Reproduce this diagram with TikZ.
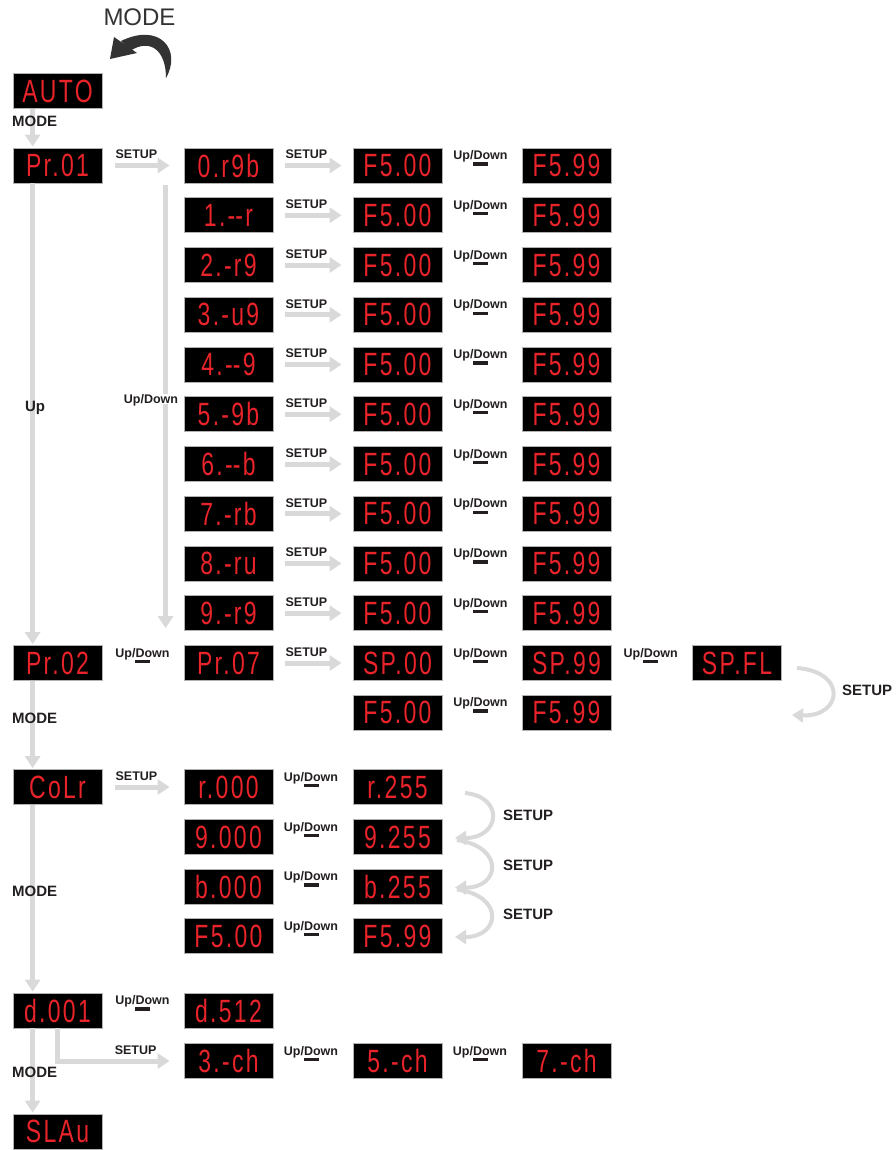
\documentclass[tikz,border=0pt]{standalone}
\usepackage{fontspec}
\usepackage{graphicx}
\setmainfont{Liberation Sans}
\newfontfamily\segfont[LetterSpace=10]{Liberation Sans}
\usetikzlibrary{arrows.meta,calc}
\definecolor{segred}{HTML}{E8232A}
\definecolor{arrgray}{HTML}{D9D9D9}
\definecolor{lblack}{HTML}{231F20}
\definecolor{darkarr}{HTML}{333333}
\newcommand\segtxt[1]{\scalebox{1}[1.4]{\fontsize{23}{23}\segfont #1}}
\newcommand\dd{-\kern0pt-}
\begin{document}
\begin{tikzpicture}[x=1pt,y=-1pt,
 disp/.style={fill=black,draw=gray!60,line width=0.8pt,minimum width=89pt,minimum height=35pt,inner sep=0pt,text=segred},
 garrow/.style={draw=arrgray,line width=5pt,-{Triangle[width=15pt,length=12pt]}},
 carrow/.style={draw=arrgray,line width=4pt,-{Triangle[width=14pt,length=11pt]}},
 slbl/.style={font=\bfseries\fontsize{12.5}{14}\selectfont,text=lblack,inner sep=0pt,text depth=0pt},
 blbl/.style={font=\bfseries\fontsize{15}{17}\selectfont,text=lblack,inner sep=0pt,text depth=0pt},
 dashbar/.style={fill=lblack,minimum width=15pt,minimum height=3.2pt,inner sep=0pt}
]
\useasboundingbox (0,0) rectangle (895,1150);

% ---- top MODE arrow
\node[font=\fontsize{24}{26}\selectfont,text=darkarr,inner sep=0pt] (topmode) at (139.5,17) {MODE};
\fill[darkarr] (166,78) .. controls (182,50) and (160,22) .. (121,41)
   -- (130,51) .. controls (150,38) and (166,50) .. (166,78) -- cycle;
\fill[darkarr] (114,37) -- (137,53) -- (110,59) -- cycle;

% ---- column 1
\node[disp] (auto) at (57.5,91) {\segtxt{AUTO}};
\node[disp] (p1) at (57.5,165.5) {\segtxt{Pr.01}};
\node[disp] (p2) at (57.5,663) {\segtxt{Pr.02}};
\node[disp] (colr) at (57.5,787) {\segtxt{CoLr}};
\node[disp] (d1) at (57.5,1010.5) {\segtxt{d.001}};
\node[disp] (slav) at (57.5,1131.5) {\segtxt{SLAu}};

\draw[garrow] ($(auto.south west)+(20,0)$) -- ($(p1.north west)+(20,-1)$);
\draw[garrow] ($(p1.south west)+(20,0)$) -- ($(p2.north west)+(20,-1)$);
\draw[garrow] ($(p2.south west)+(20,0)$) -- ($(colr.north west)+(20,-1)$);
\draw[garrow] ($(colr.south west)+(20,0)$) -- ($(d1.north west)+(20,-1)$);
\draw[garrow] ($(d1.south west)+(20,0)$) -- ($(slav.north west)+(20,-1)$);

\node[blbl,anchor=west] (mode1) at (12,121.5) {MODE};
\node[blbl] (uplbl) at (35,406) {Up};
\node[blbl,anchor=west] (mode2) at (12,718) {MODE};
\node[blbl,anchor=west] (mode3) at (12,891) {MODE};
\node[blbl,anchor=west] (mode4) at (12,1072) {MODE};

% ---- Pr.01 block
\foreach \t [count=\i from 0] in {0.r9b,1.\dd r,2.-r9,3.-u9,4.\dd 9,5.-9b,6.\dd b,7.-rb,8.-ru,9.-r9} {
 \pgfmathsetmacro\yy{165.5+49.75*\i}
 \node[disp] (b\i) at (228.5,\yy) {\segtxt{\t}};
 \node[disp] (f\i) at (397.5,\yy) {\segtxt{F5.00}};
 \node[disp] (g\i) at (566.5,\yy) {\segtxt{F5.99}};
 \draw[garrow] ([xshift=12pt]b\i.east) -- ([xshift=-11pt]f\i.west);
 \node[slbl,anchor=west] (s\i) at ($(b\i.east)+(12,-11)$) {SETUP};
 \node[slbl] (u\i) at ($(f\i.east)!0.5!(g\i.west)+(-1.5,-10.5)$) {Up/Down};
 \node[dashbar] (m\i) at ($(f\i.east)!0.5!(g\i.west)+(-1.5,-1.5)$) {};
}
\draw[garrow] ([xshift=13pt]p1.east) -- ([xshift=-14pt]b0.west);
\node[slbl,anchor=west] (sp1) at ($(p1.east)+(13,-11)$) {SETUP};
\draw[garrow] ($(b0.south west)+(-18,2)$) -- ($(b9.south west)+(-18,-3)$);
\node[slbl,fill=white,inner sep=0.6pt] (udv) at (151,399) {Up/Down};

% ---- Pr.02 block
\node[disp] (p7) at (228.5,663) {\segtxt{Pr.07}};
\node[disp] (sp0) at (397.5,663) {\segtxt{SP.00}};
\node[disp] (sp9) at (566.5,663) {\segtxt{SP.99}};
\node[disp] (spfl) at (737,663) {\segtxt{SP.FL}};
\node[disp] (fb) at (397.5,712.5) {\segtxt{F5.00}};
\node[disp] (gb) at (566.5,712.5) {\segtxt{F5.99}};

\node[slbl] (ua) at ($(p2.east)!0.5!(p7.west)+(-0.5,-10.5)$) {Up/Down};
\node[dashbar] (ma) at ($(p2.east)!0.5!(p7.west)+(-0.5,-1.5)$) {};
\draw[garrow] ([xshift=12pt]p7.east) -- ([xshift=-11pt]sp0.west);
\node[slbl,anchor=west] (sb) at ($(p7.east)+(12,-11)$) {SETUP};
\node[slbl] (ub) at ($(sp0.east)!0.5!(sp9.west)+(-1.5,-10.5)$) {Up/Down};
\node[dashbar] (mb) at ($(sp0.east)!0.5!(sp9.west)+(-1.5,-1.5)$) {};
\node[slbl] (uc) at ($(sp9.east)!0.5!(spfl.west)+(-1,-10.5)$) {Up/Down};
\node[dashbar] (mc) at ($(sp9.east)!0.5!(spfl.west)+(-1,-1.5)$) {};
\node[slbl] (ud) at ($(fb.east)!0.5!(gb.west)+(-1.5,-10.5)$) {Up/Down};
\node[dashbar] (md) at ($(fb.east)!0.5!(gb.west)+(-1.5,-1.5)$) {};

\coordinate (sfa) at (797,668);
\coordinate (sfb) at (792,715);
\draw[carrow] (sfa) .. controls (848,672) and (842,717) .. (sfb);
\node[blbl,anchor=west] (sfl) at (842,690) {SETUP};

% ---- Colr block
\foreach \ta/\tb/\yy [count=\i from 0] in {r.000/r.255/787, 9.000/9.255/837, b.000/b.255/886.5, F5.00/F5.99/936} {
 \node[disp] (c\i) at (228.5,\yy) {\segtxt{\ta}};
 \node[disp] (e\i) at (397.5,\yy) {\segtxt{\tb}};
 \node[slbl] (cu\i) at ($(c\i.east)!0.5!(e\i.west)+(-2,-10.5)$) {Up/Down};
 \node[dashbar] (cm\i) at ($(c\i.east)!0.5!(e\i.west)+(-2,-1.5)$) {};
}
\draw[garrow] ([xshift=13pt]colr.east) -- ([xshift=-14pt]c0.west);
\node[slbl,anchor=west] (sc) at ($(colr.east)+(13,-11)$) {SETUP};

\coordinate (ca0) at (465,793);
\coordinate (ca1) at (455,838);
\coordinate (ca2) at (455,887.5);
\coordinate (ca3) at (455,937);
\draw[carrow] (ca0) .. controls (505,797) and (500,838) .. (ca1);
\draw[carrow] ($(ca1)+(2,2)$) .. controls (505,847) and (500,888) .. (ca2);
\draw[carrow] ($(ca2)+(2,2)$) .. controls (505,896) and (500,937) .. (ca3);
\node[blbl,anchor=west] (cs1) at (503,815) {SETUP};
\node[blbl,anchor=west] (cs2) at (503,865) {SETUP};
\node[blbl,anchor=west] (cs3) at (503,914) {SETUP};

% ---- DMX block
\node[disp] (d512) at (228.5,1010.5) {\segtxt{d.512}};
\node[disp] (ch3) at (228.5,1061) {\segtxt{3.-ch}};
\node[disp] (ch5) at (397.5,1061) {\segtxt{5.-ch}};
\node[disp] (ch7) at (566.5,1061) {\segtxt{7.-ch}};
\node[slbl] (du) at ($(d1.east)!0.5!(d512.west)+(-0.5,-10.5)$) {Up/Down};
\node[dashbar] (dm) at ($(d1.east)!0.5!(d512.west)+(-0.5,-1.5)$) {};
\node[slbl] (du2) at ($(ch3.east)!0.5!(ch5.west)+(-2,-10.5)$) {Up/Down};
\node[dashbar] (dm2) at ($(ch3.east)!0.5!(ch5.west)+(-2,-1.5)$) {};
\node[slbl] (du3) at ($(ch5.east)!0.5!(ch7.west)+(-2,-10.5)$) {Up/Down};
\node[dashbar] (dm3) at ($(ch5.east)!0.5!(ch7.west)+(-2,-1.5)$) {};
\draw[garrow] (d1.south) |- ([xshift=-14pt]ch3.west);
\node[slbl,anchor=west] (sd) at ($(ch3.west)+(-69,-11)$) {SETUP};
\end{tikzpicture}
\end{document}
